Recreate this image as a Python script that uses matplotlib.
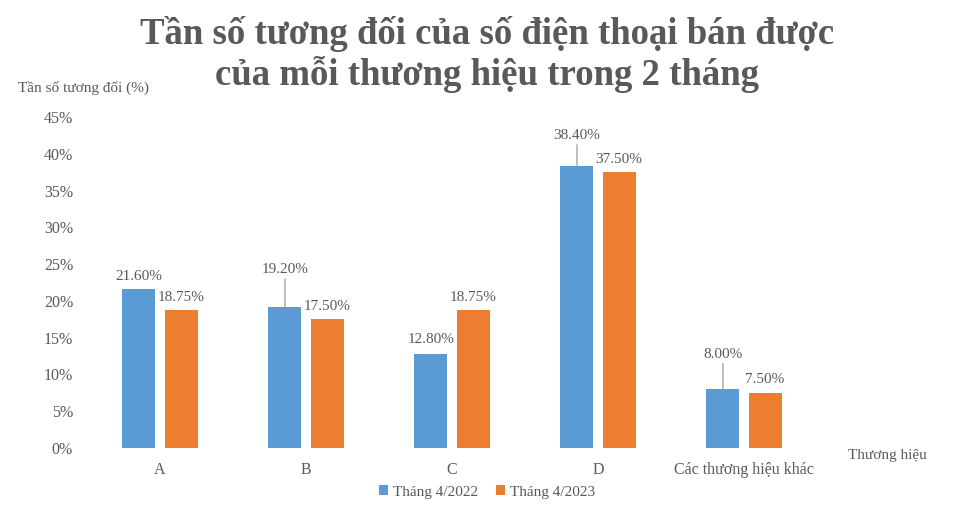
import matplotlib
matplotlib.use("Agg")
import matplotlib.pyplot as plt
import numpy as np

categories = ["A", "B", "C", "D", "Các thương hiệu khác"]
series_names = ["Tháng 4/2022", "Tháng 4/2023"]
values_2022 = [21.60, 19.20, 12.80, 38.40, 8.00]
values_2023 = [18.75, 17.50, 18.75, 37.50, 7.50]
yticks = [0, 5, 10, 15, 20, 25, 30, 35, 40, 45]
title_lines = ["Tần số tương đối của số điện thoại bán được",
               "của mỗi thương hiệu trong 2 tháng"]
ylabel = "Tần số tương đối (%)"
xlabel = "Thương hiệu"

# style
BLUE = "#5B9BD5"
ORANGE = "#ED7D31"
TXT = "#595959"
plt.rcParams["font.family"] = ["Liberation Serif", "DejaVu Serif"]

fig = plt.figure(figsize=(9.7, 5.14), dpi=100)
ax = fig.add_axes([87 / 970, 66 / 514, 730 / 970, 331 / 514])

x = np.arange(len(categories))
w = 0.226
off = 0.144
b1 = ax.bar(x - off, values_2022, w, color=BLUE, label=series_names[0])
b2 = ax.bar(x + off, values_2023, w, color=ORANGE, label=series_names[1])

ax.set_xlim(-0.5, len(categories) - 0.5)
ax.set_ylim(0, 45)
ax.set_yticks(yticks)
ax.set_yticklabels([f"{t}%" for t in yticks], fontsize=11.5, color=TXT)
ax.set_xticks(x)
ax.set_xticklabels(categories, fontsize=11.5, color=TXT)
ax.tick_params(length=0)
ax.tick_params(axis="y", pad=10)
ax.tick_params(axis="x", pad=10)
for s in ax.spines.values():
    s.set_visible(False)

# data labels (pixel offsets above bar tops; some raised with leader lines)
raise_2022 = [13, 37, 14, 30, 35]
for xi, v, r in zip(x - off, values_2022, raise_2022):
    kw = {}
    if r > 20:
        kw["arrowprops"] = dict(arrowstyle="-", color="#a6a6a6", lw=1,
                                shrinkA=0, shrinkB=0)
    ax.annotate(f"{v:.2f}%", xy=(xi, v), xytext=(0, r),
                textcoords="offset pixels", ha="center", va="center",
                fontsize=11, color=TXT, **kw)
for xi, v in zip(x + off, values_2023):
    ax.annotate(f"{v:.2f}%", xy=(xi, v), xytext=(0, 13),
                textcoords="offset pixels", ha="center", va="center",
                fontsize=11, color=TXT)

for line, base in zip(title_lines, [44, 85]):
    fig.text(487 / 970, 1 - base / 514, line, ha="center", va="baseline",
             fontsize=26.5, fontweight="bold", color=TXT)
fig.text(18 / 970, 1 - 88 / 514, ylabel, ha="left", va="center",
         fontsize=11, color=TXT)
fig.text(848 / 970, 1 - 456 / 514, xlabel, ha="left", va="center",
         fontsize=11, color=TXT)

fig.legend(handles=[b1, b2], labels=series_names, loc="center",
           bbox_to_anchor=(487 / 970, 1 - 492 / 514), ncol=2, frameon=False,
           fontsize=11, handlelength=0.6, handleheight=0.6, handletextpad=0.3,
           columnspacing=1.2, labelcolor=TXT)

fig.savefig("out.png", dpi=100)
